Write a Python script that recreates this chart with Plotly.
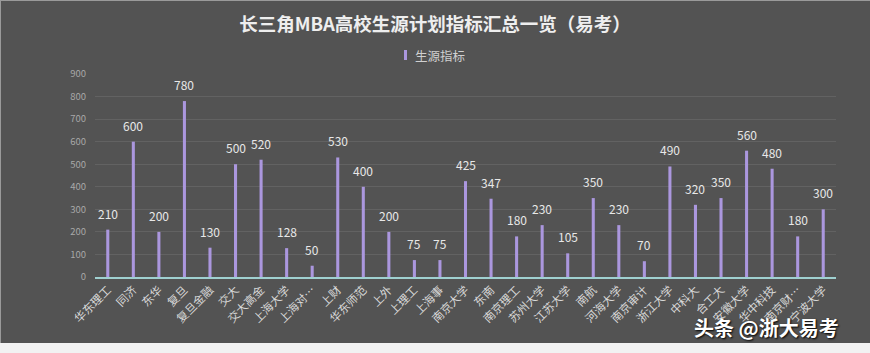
import plotly.graph_objects as go

categories = ["华东理工", "同济", "东华", "复旦", "复旦金融", "交大", "交大高金", "上海大学", "上海对…",
              "上财", "华东师范", "上外", "上理工", "上海事", "南京大学", "东南", "南京理工", "苏州大学",
              "江苏大学", "南航", "河海大学", "南京审计", "浙江大学", "中科大", "合工大", "安徽大学",
              "华中科技", "南京财…", "宁波大学"]
values = [210, 600, 200, 780, 130, 500, 520, 128, 50, 530, 400, 200, 75, 75, 425, 347, 180, 230,
          105, 350, 230, 70, 490, 320, 350, 560, 480, 180, 300]
y_ticks = [0, 100, 200, 300, 400, 500, 600, 700, 800, 900]
series_name = "生源指标"

W, H = 870, 353
L, R, T, B = 95, 34, 74, 76
pw, ph = W - L - R, H - T - B

font = "Noto Sans CJK SC, Microsoft YaHei, sans-serif"
bar_color = "#ab97de"

fig = go.Figure()
fig.add_trace(go.Bar(
    x=categories, y=values, name=series_name,
    marker=dict(color=bar_color, line=dict(width=0)),
    width=0.12, showlegend=False,
))

for c, v in zip(categories, values):
    fig.add_annotation(x=c, y=v, text=str(v), showarrow=False, yanchor="bottom", yshift=6,
                       font=dict(size=12, color="#e8e8e8", family=font))

fig.update_layout(
    width=W, height=H,
    margin=dict(l=L, r=R, t=T, b=B),
    paper_bgcolor="#535353", plot_bgcolor="#535353",
    title=dict(text="<b>长三角MBA高校生源计划指标汇总一览（易考）</b>",
               x=0.5, xanchor="center", y=1 - 25 / H, yanchor="middle",
               font=dict(size=18.5, color="#eeeeee", family=font)),
    showlegend=False,
    font=dict(family=font),
)
fig.update_xaxes(
    type="category", tickangle=-45, tickfont=dict(size=11.5, color="#d8d8d8", family=font),
    showline=True, linecolor="#9fd0d0", linewidth=1.5, ticks="", showgrid=False,
)
fig.update_yaxes(
    range=[0, 900], tickvals=y_ticks, tickfont=dict(size=9.5, color="#a8a8a8", family=font),
    showgrid=True, gridcolor="#626262", gridwidth=1, zeroline=False, showline=False,
    ticklabelstandoff=8,
)

# legend drawn manually (thin bar marker + label)
fig.add_shape(type="rect", xref="paper", yref="paper",
              x0=(404 - L) / pw, x1=(407 - L) / pw, y0=(H - B - 60) / ph, y1=(H - B - 50) / ph,
              fillcolor=bar_color, line=dict(width=0))
fig.add_annotation(text=series_name, xref="paper", yref="paper",
                   x=(413 - L) / pw, y=(H - B - 55) / ph, xanchor="left", yanchor="middle",
                   showarrow=False, font=dict(size=12.5, color="#d0d0d0", family=font))

# bottom light band and thin border
fig.add_shape(type="rect", xref="paper", yref="paper",
              x0=-L / pw, x1=(W - L) / pw, y0=-B / ph - 0.01, y1=-(B - 10) / ph,
              fillcolor="#f2f2f2", line=dict(width=0), layer="above")
fig.add_shape(type="line", xref="paper", yref="paper",
              x0=-L / pw + 0.5 / pw, x1=-L / pw + 0.5 / pw, y0=-(B - 10) / ph, y1=(ph + T) / ph,
              line=dict(color="#9a9a9a", width=1))
fig.add_shape(type="line", xref="paper", yref="paper",
              x0=-L / pw, x1=(W - L) / pw, y0=(ph + T - 0.5) / ph, y1=(ph + T - 0.5) / ph,
              line=dict(color="#9a9a9a", width=1))

fig.add_annotation(text="<b>头条 @浙大易考</b>", xref="paper", yref="paper",
                   x=(766 - L) / pw, y=(H - B - 327) / ph,
                   xanchor="center", yanchor="middle", showarrow=False,
                   font=dict(size=20, color="#ffffff", family=font, shadow="1px 1px 2px #000000"))

fig.write_html("out.html")
